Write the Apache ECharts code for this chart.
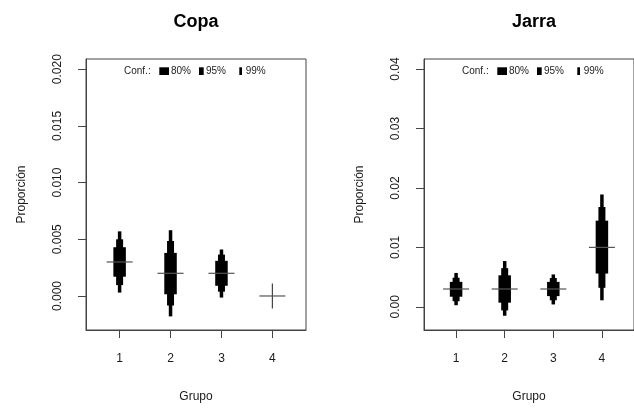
<!DOCTYPE html>
<html>
<head>
<meta charset="utf-8">
<script src="https://cdn.jsdelivr.net/npm/echarts@6/dist/echarts.min.js"></script>
<style>
html,body{margin:0;padding:0;background:#fff;}
#chart{width:634px;height:408px;}
</style>
</head>
<body>
<div id="chart"></div>
<script>
// ---- data ----
const groups = [1, 2, 3, 4];
const groupLabels = ['1', '2', '3', '4'];
const titles = ['Copa', 'Jarra'];
const confLabels = ['80%', '95%', '99%'];

const copaCenter = [0.003, 0.002, 0.002, 0.000];
const copaLo80 = [0.0017, 0.00015, 0.0009, 0.000];
const copaHi80 = [0.0043, 0.0038, 0.0031, 0.000];
const copaLo95 = [0.00096, -0.00084, 0.00038, 0.000];
const copaHi95 = [0.0050, 0.00485, 0.00365, 0.000];
const copaLo99 = [0.0003, -0.0018, -0.00014, 0.000];
const copaHi99 = [0.0057, 0.0058, 0.0041, 0.000];

const jarraCenter = [0.003, 0.003, 0.003, 0.010];
const jarraLo80 = [0.0017, 0.0007, 0.0018, 0.0056];
const jarraHi80 = [0.0042, 0.0053, 0.0042, 0.0145];
const jarraLo95 = [0.00094, -0.0006, 0.0011, 0.0032];
const jarraHi95 = [0.0049, 0.0065, 0.00485, 0.0168];
const jarraLo99 = [0.00027, -0.0015, 0.0004, 0.0011];
const jarraHi99 = [0.0057, 0.0077, 0.00545, 0.0189];

const copaTicks = [0, 0.005, 0.010, 0.015, 0.020];
const jarraTicks = [0, 0.01, 0.02, 0.03, 0.04];

// ---- build ----
function makeData(center, lo80, hi80, lo95, hi95, lo99, hi99) {
  return groups.map((g, i) => [g, center[i], lo80[i], hi80[i], lo95[i], hi95[i], lo99[i], hi99[i]]);
}
const copaData = makeData(copaCenter, copaLo80, copaHi80, copaLo95, copaHi95, copaLo99, copaHi99);
const jarraData = makeData(jarraCenter, jarraLo80, jarraHi80, jarraLo95, jarraHi95, jarraLo99, jarraHi99);

function renderItem(params, api) {
  const x = api.value(0);
  const c = api.coord([x, api.value(1)]);
  const children = [];
  children.push({type: 'line', shape: {x1: c[0], y1: c[1] - 12.5, x2: c[0], y2: c[1] + 12.5},
    style: {stroke: '#444', lineWidth: 1.2}});
  function rect(lo, hi, w) {
    const p1 = api.coord([x, hi]);
    const p2 = api.coord([x, lo]);
    const h = p2[1] - p1[1];
    if (h <= 0.5) return;
    children.push({type: 'rect', shape: {x: p1[0] - w / 2, y: p1[1], width: w, height: h},
      style: {fill: '#000'}});
  }
  rect(api.value(6), api.value(7), 3.5);
  rect(api.value(4), api.value(5), 7);
  rect(api.value(2), api.value(3), 12.5);
  children.push({type: 'line', shape: {x1: c[0] - 13, y1: c[1], x2: c[0] + 13, y2: c[1]},
    style: {stroke: '#555', lineWidth: 1.2}});
  return {type: 'group', children: children};
}

const panelLeft = [86, 424];
const axisColor = '#444';
const textColor = '#1a1a1a';

function xAxisFor(gi) {
  return {
    type: 'value', gridIndex: gi, min: 0.34, max: 4.66,
    name: 'Grupo', nameLocation: 'middle', nameGap: 61,
    nameTextStyle: {fontSize: 12, color: textColor, fontFamily: 'Liberation Sans'},
    axisLine: {show: true, onZero: false, lineStyle: {color: axisColor, width: 1}},
    axisTick: {show: true, length: 8, customValues: groups, lineStyle: {color: axisColor, width: 1}},
    axisLabel: {show: true, customValues: groups, margin: 23, fontSize: 12, color: textColor,
      fontFamily: 'Liberation Sans', formatter: v => groupLabels[groups.indexOf(v)]},
    splitLine: {show: false}
  };
}
function yAxisFor(gi, min, max, ticks, dec) {
  return {
    type: 'value', gridIndex: gi, min: min, max: max,
    name: 'Proporción', nameLocation: 'middle', nameGap: 58,
    nameTextStyle: {fontSize: 12, color: textColor, fontFamily: 'Liberation Sans'},
    axisLine: {show: true, onZero: false, lineStyle: {color: axisColor, width: 1}},
    axisTick: {show: true, length: 8, customValues: ticks, lineStyle: {color: axisColor, width: 1}},
    axisLabel: {show: true, customValues: ticks, rotate: 90, margin: 22, fontSize: 12, color: textColor,
      fontFamily: 'Liberation Sans', formatter: v => v.toFixed(dec)},
    splitLine: {show: false}
  };
}

// legend + titles as graphic elements
const graphics = [];
panelLeft.forEach((L, pi) => {
  graphics.push({type: 'text', x: L + 110, y: 22,
    style: {text: titles[pi], fontSize: 18, fontWeight: 'bold', fill: '#000',
      fontFamily: 'Liberation Sans', align: 'center', verticalAlign: 'middle'}});
  graphics.push({type: 'text', x: L + 38, y: 71,
    style: {text: 'Conf.:', fontSize: 10, fill: '#222', fontFamily: 'Liberation Sans',
      align: 'left', verticalAlign: 'middle'}});
  const sw = [[73.3, 9.7], [113, 4.7], [153.3, 2.7]];
  const tx = [85, 120, 159.7];
  sw.forEach((s, k) => {
    graphics.push({type: 'rect', shape: {x: L + s[0], y: 67.3, width: s[1], height: 7.7},
      style: {fill: '#000'}});
    graphics.push({type: 'text', x: L + tx[k], y: 71,
      style: {text: confLabels[k], fontSize: 10, fill: '#222', fontFamily: 'Liberation Sans',
        align: 'left', verticalAlign: 'middle'}});
  });
});

const chart = echarts.init(document.getElementById('chart'), null, {renderer: 'canvas'});
chart.setOption({
  animation: false,
  backgroundColor: '#fff',
  grid: [
    {left: 86, top: 59, width: 220, height: 273, show: true, borderColor: axisColor, borderWidth: 1, containLabel: false},
    {left: 424, top: 59, width: 220, height: 273, show: true, borderColor: axisColor, borderWidth: 1, containLabel: false}
  ],
  xAxis: [xAxisFor(0), xAxisFor(1)],
  yAxis: [yAxisFor(0, -0.0030, 0.0209, copaTicks, 3), yAxisFor(1, -0.0039, 0.0417, jarraTicks, 2)],
  series: [
    {type: 'custom', xAxisIndex: 0, yAxisIndex: 0, renderItem: renderItem, data: copaData,
      encode: {x: 0, y: [1, 6, 7]}, clip: false},
    {type: 'custom', xAxisIndex: 1, yAxisIndex: 1, renderItem: renderItem, data: jarraData,
      encode: {x: 0, y: [1, 6, 7]}, clip: false}
  ],
  graphic: graphics
});
</script>
</body>
</html>
